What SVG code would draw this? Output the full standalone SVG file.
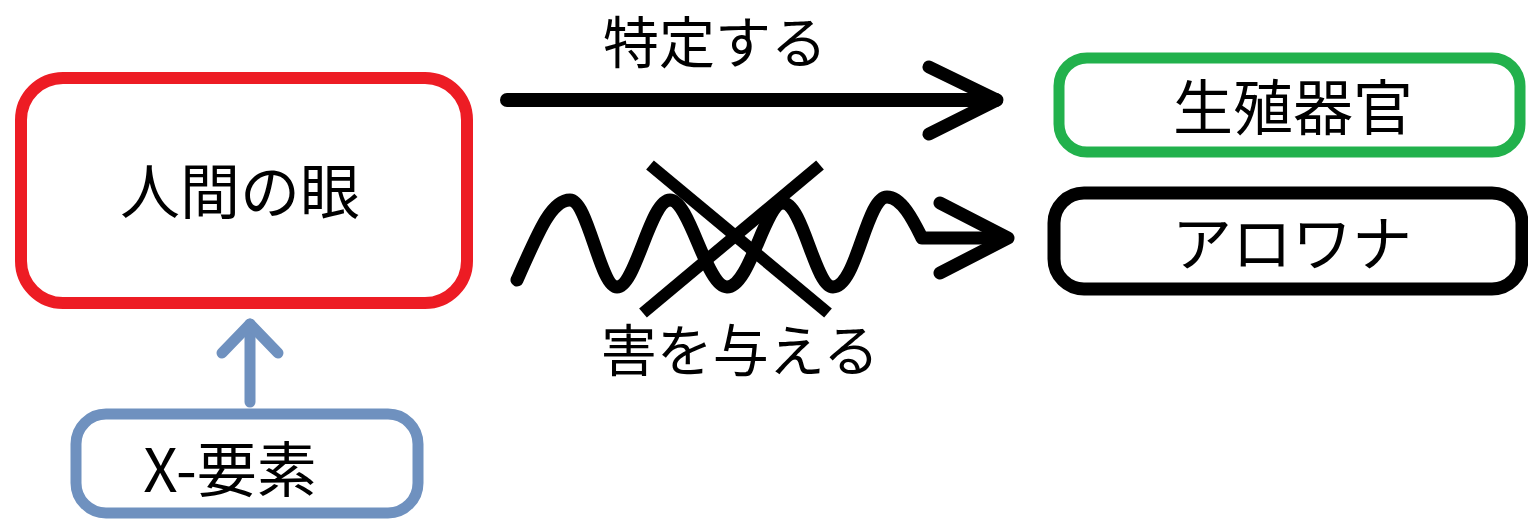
<svg xmlns="http://www.w3.org/2000/svg" width="1528" height="519" viewBox="0 0 1528 519">
<style>
.lbl{font-family:"Noto Sans CJK JP","Noto Sans",sans-serif;fill:#000;text-anchor:middle}
.node{font-size:60px}
.edge{font-size:56px}
.blk{fill:none;stroke:#000;stroke-linecap:round;stroke-linejoin:round}
</style>
<rect width="1528" height="519" fill="#fff"/>
<g id="connectors">
  <g id="edge-identify">
    <line x1="507" y1="100" x2="996" y2="100" class="blk" stroke-width="14" stroke-linecap="butt"/>
    <polyline points="929,67 997,100 929,134" class="blk" stroke-width="13"/>
    <text x="715" y="63" class="lbl edge">特定する</text>
  </g>
  <g id="edge-harm">
    <path d="M517,280 C540,228 552,200 570,200 C588,200 600,287 617,287 C636,287 650,200 670,200 C690,200 706,287 727,287 C750,287 765,203 783,203 C803,203 815,287 833,287 C857,287 866,197 887,197 C902,197 914,222 922,238 L1004,238" class="blk" stroke-width="13"/>
    <polyline points="940,203 1008,238 940,273" class="blk" stroke-width="13"/>
    <line x1="650" y1="165" x2="828" y2="313" stroke="#000" stroke-width="12"/>
    <line x1="820" y1="165" x2="643" y2="313" stroke="#000" stroke-width="12"/>
    <text x="740" y="371" class="lbl edge">害を与える</text>
  </g>
  <g id="edge-x">
    <line x1="250" y1="402" x2="250" y2="324" stroke="#6f91bf" stroke-width="11" stroke-linecap="round"/>
    <polyline points="222,353 250,324 278,353" fill="none" stroke="#6f91bf" stroke-width="11" stroke-linecap="round" stroke-linejoin="round"/>
  </g>
</g>
<g id="node-eye">
  <rect x="21" y="78" width="446" height="225" rx="42" fill="#fff" stroke="#ed1c24" stroke-width="12"/>
  <text x="240" y="214" class="lbl node">人間の眼</text>
</g>
<g id="node-organ">
  <rect x="1059" y="58" width="461" height="94" rx="28" fill="#fff" stroke="#22b14c" stroke-width="11"/>
  <text x="1293" y="130" class="lbl node">生殖器官</text>
</g>
<g id="node-arowana">
  <rect x="1054" y="193" width="468" height="96" rx="30" fill="#fff" stroke="#000" stroke-width="13"/>
  <text x="1292" y="266" class="lbl node">アロワナ</text>
</g>
<g id="node-x">
  <rect x="76" y="414" width="342" height="99" rx="30" fill="#fff" stroke="#6f91bf" stroke-width="11"/>
  <text x="230" y="492" class="lbl node">X-要素</text>
</g>
</svg>
